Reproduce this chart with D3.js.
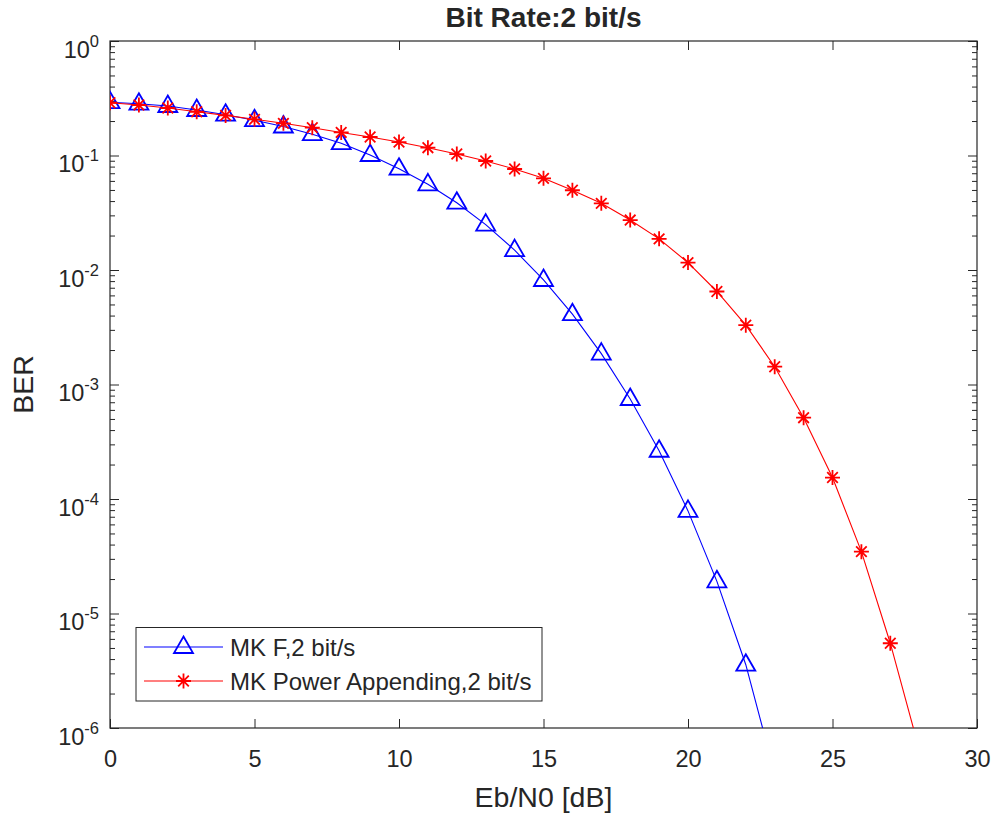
<!DOCTYPE html>
<html>
<head>
<meta charset="utf-8">
<script src="https://cdn.jsdelivr.net/npm/d3@7"></script>
<style>
  html, body { margin: 0; padding: 0; background: #fff; }
  svg { display: block; }
  text { font-family: "Liberation Sans", Arial, Helvetica, sans-serif; fill: #262626; }
</style>
</head>
<body>
<svg id="chart" width="995" height="815"></svg>
<script>
// Eb/N0 sample points (dB) and measured bit error rates for both schemes
const ebn0MKF = [0,1,2,3,4,5,6,7,8,9,10,11,12,13,14,15,16,17,18,19,20,21,22,23];
const berMKF = [0.292,0.2835,0.2706,0.2496,0.2272,0.2034,0.1792,0.1535,0.128,0.101,
                0.0767,0.056,0.0387,0.0249,0.0149,0.00818,0.00411,0.00186,7.47e-4,
                2.64e-4,7.87e-5,1.91e-5,3.57e-6,4.0e-7];
const ebn0PA = [0,1,2,3,4,5,6,7,8,9,10,11,12,13,14,15,16,17,18,19,20,21,22,23,24,25,26,27,28];
const berPA = [0.289,0.276,0.26,0.241,0.224,0.207,0.191,0.175,0.159,0.145,0.131,0.117,
               0.103,0.0895,0.0762,0.0632,0.0497,0.0382,0.0273,0.0187,0.0116,0.00649,
               0.0033,0.00143,5.13e-4,1.54e-4,3.47e-5,5.5e-6,6.5e-7];

const seriesNames = ["MK F,2 bit/s", "MK Power Appending,2 bit/s"];
const xTickValues = [0,5,10,15,20,25,30];
const yExponents = [0,-1,-2,-3,-4,-5,-6];
const titleText = "Bit Rate:2 bit/s";
const xLabelText = "Eb/N0 [dB]";
const yLabelText = "BER";

const axisColor = "#262626";
const blue = "#0000ff";
const red = "#ff0000";

const svg = d3.select("#chart");
const plot = { left: 110, right: 977, top: 41, bottom: 728 };

const x = d3.scaleLinear().domain([0, 30]).range([plot.left, plot.right]);
const y = d3.scaleLog().domain([1e-6, 1]).range([plot.bottom, plot.top]);

svg.append("defs").append("clipPath").attr("id", "plotClip")
  .append("rect")
  .attr("x", plot.left).attr("y", plot.top)
  .attr("width", plot.right - plot.left).attr("height", plot.bottom - plot.top);

// minor ticks for the log axis: 2..9 within each decade
const minorY = [];
for (let e = -6; e < 0; e++) for (let m = 2; m <= 9; m++) minorY.push(m * Math.pow(10, e));
const majorY = yExponents.map(e => Math.pow(10, e));

function styleAxis(g) {
  g.select(".domain").remove();
  g.selectAll("line").attr("stroke", axisColor).attr("stroke-width", 1);
}

// left / right major + minor ticks (inward)
svg.append("g").attr("transform", `translate(${plot.left},0)`)
  .call(d3.axisLeft(y).tickValues(majorY).tickSize(-9).tickFormat(""))
  .call(styleAxis);
svg.append("g").attr("transform", `translate(${plot.left},0)`)
  .call(d3.axisLeft(y).tickValues(minorY).tickSize(-5).tickFormat(""))
  .call(styleAxis);
svg.append("g").attr("transform", `translate(${plot.right},0)`)
  .call(d3.axisRight(y).tickValues(majorY).tickSize(-9).tickFormat(""))
  .call(styleAxis);
svg.append("g").attr("transform", `translate(${plot.right},0)`)
  .call(d3.axisRight(y).tickValues(minorY).tickSize(-5).tickFormat(""))
  .call(styleAxis);

// bottom / top ticks
const xAxisG = svg.append("g").attr("transform", `translate(0,${plot.bottom})`)
  .call(d3.axisBottom(x).tickValues(xTickValues).tickSize(-9).tickPadding(0).tickFormat(d3.format("d")))
  .call(styleAxis);
xAxisG.selectAll("text")
  .attr("y", 38.5).attr("dy", null)
  .style("font-size", "23.5px")
  .attr("fill", axisColor);
svg.append("g").attr("transform", `translate(0,${plot.top})`)
  .call(d3.axisTop(x).tickValues(xTickValues).tickSize(-9).tickFormat(""))
  .call(styleAxis);

// y tick labels as 10 with superscript exponent
const yLabels = svg.append("g");
yExponents.forEach(e => {
  const yy = y(Math.pow(10, e));
  const t = yLabels.append("text")
    .attr("x", 99).attr("y", yy + 16.5)
    .attr("text-anchor", "end");
  t.append("tspan").style("font-size", "23.5px").text("10");
  t.append("tspan").style("font-size", "16.5px").attr("dy", -11).text(String(e));
});

// axes box
svg.append("rect")
  .attr("x", plot.left).attr("y", plot.top)
  .attr("width", plot.right - plot.left).attr("height", plot.bottom - plot.top)
  .attr("fill", "none").attr("stroke", axisColor).attr("stroke-width", 1.2);

// marker shapes
const triPath = "M0,-10.5 L9.5,6 L-9.5,6 Z";
const starPath = "M0,-7.5 L0,7.5 M-7.5,0 L7.5,0 M-5.3,-5.3 L5.3,5.3 M-5.3,5.3 L5.3,-5.3";

const line = d3.line().x(d => x(d[0])).y(d => y(d[1]));
const dataMKF = ebn0MKF.map((v, i) => [v, berMKF[i]]);
const dataPA = ebn0PA.map((v, i) => [v, berPA[i]]);

const plotG = svg.append("g").attr("clip-path", "url(#plotClip)");

plotG.append("path").datum(dataMKF)
  .attr("d", line).attr("fill", "none").attr("stroke", blue).attr("stroke-width", 1.1);
plotG.selectAll(".tri").data(dataMKF).enter().append("path")
  .attr("class", "tri")
  .attr("transform", d => `translate(${x(d[0])},${y(d[1])})`)
  .attr("d", triPath).attr("fill", "none").attr("stroke", blue).attr("stroke-width", 1.8);

plotG.append("path").datum(dataPA)
  .attr("d", line).attr("fill", "none").attr("stroke", red).attr("stroke-width", 1.1);
plotG.selectAll(".star").data(dataPA).enter().append("path")
  .attr("class", "star")
  .attr("transform", d => `translate(${x(d[0])},${y(d[1])})`)
  .attr("d", starPath).attr("fill", "none").attr("stroke", red).attr("stroke-width", 1.8);

// title and axis labels
svg.append("text")
  .attr("x", (plot.left + plot.right) / 2).attr("y", 27)
  .attr("text-anchor", "middle")
  .style("font-size", "28px").style("font-weight", "bold")
  .attr("fill", "#000")
  .text(titleText);

svg.append("text")
  .attr("x", (plot.left + plot.right) / 2).attr("y", 807)
  .attr("text-anchor", "middle")
  .style("font-size", "28.5px")
  .text(xLabelText);

svg.append("text")
  .attr("transform", `translate(33,${(plot.top + plot.bottom) / 2}) rotate(-90)`)
  .attr("text-anchor", "middle")
  .style("font-size", "28.5px")
  .text(yLabelText);

// legend
const legend = svg.append("g");
legend.append("rect")
  .attr("x", 136).attr("y", 627.5).attr("width", 406).attr("height", 73.5)
  .attr("fill", "#fff").attr("stroke", axisColor).attr("stroke-width", 1);

const legendRows = [
  { name: seriesNames[0], color: blue, path: triPath, cy: 647 },
  { name: seriesNames[1], color: red, path: starPath, cy: 681 }
];
legendRows.forEach(r => {
  legend.append("line")
    .attr("x1", 144).attr("x2", 223).attr("y1", r.cy).attr("y2", r.cy)
    .attr("stroke", r.color).attr("stroke-width", 1.1);
  legend.append("path")
    .attr("transform", `translate(183.5,${r.cy})`)
    .attr("d", r.path).attr("fill", "none").attr("stroke", r.color).attr("stroke-width", 1.8);
  legend.append("text")
    .attr("x", 230).attr("y", r.cy + 9)
    .style("font-size", "24px")
    .attr("fill", "#000")
    .text(r.name);
});
</script>
</body>
</html>
